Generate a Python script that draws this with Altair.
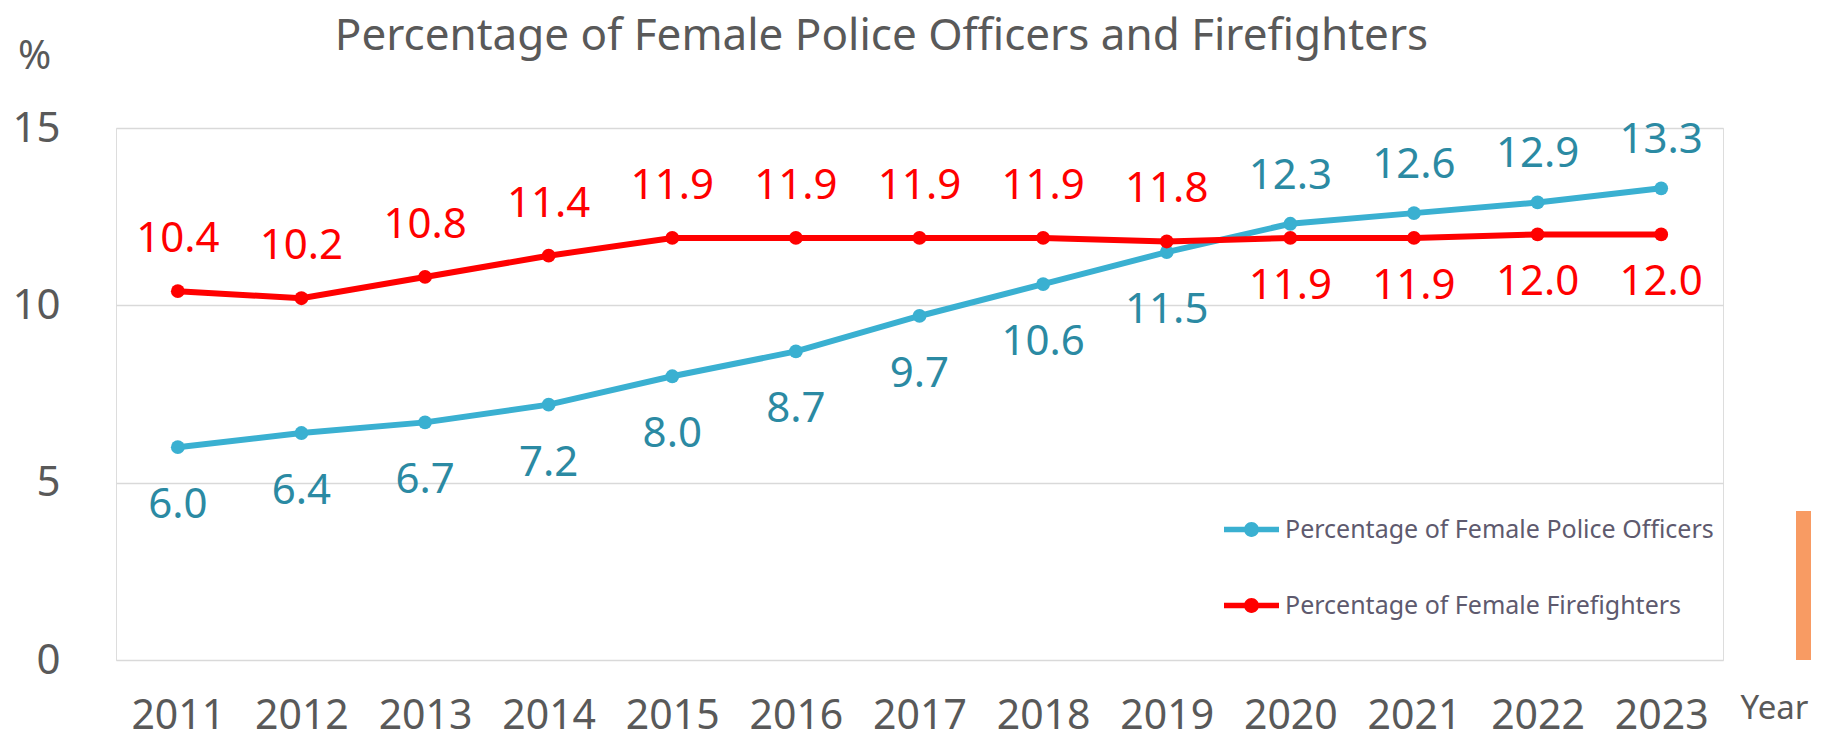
import altair as alt
import pandas as pd

years = [2011, 2012, 2013, 2014, 2015, 2016, 2017, 2018, 2019, 2020, 2021, 2022, 2023]
police = [6.0, 6.4, 6.7, 7.2, 8.0, 8.7, 9.7, 10.6, 11.5, 12.3, 12.6, 12.9, 13.3]
fire = [10.4, 10.2, 10.8, 11.4, 11.9, 11.9, 11.9, 11.9, 11.8, 11.9, 11.9, 12.0, 12.0]
series_names = ["Percentage of Female Police Officers", "Percentage of Female Firefighters"]
series_colors = ["#3ab0d1", "#ff0000"]
label_colors = ["#2b8aa3", "#ff0000"]
crossover_year = 2020
orange_bar = [0, 4.2]

rows = []
for y, p, f in zip(years, police, fire):
    rows.append({"year": y, "series": series_names[0], "value": p})
    rows.append({"year": y, "series": series_names[1], "value": f})
df = pd.DataFrame(rows)

FONT = "Noto Sans"
GREY = "#595959"

yscale = alt.Scale(domain=[0, 15], nice=False, zero=True)
cscale = alt.Scale(domain=series_names, range=series_colors)

x = alt.X("year:O", scale=alt.Scale(type="point", padding=0.5),
          axis=alt.Axis(labelAngle=0, labelFontSize=41, labelFont=FONT, labelColor=GREY,
                        labelPadding=36, ticks=False, domain=False, grid=False,
                        title="Year", titleX=1658, titleY=48, titleFontSize=33,
                        titleFont=FONT, titleColor=GREY, titleFontWeight="normal",
                        titleBaseline="middle", titleAlign="center"))
y = alt.Y("value:Q", scale=yscale,
          axis=alt.Axis(values=[0, 5, 10, 15], labelFontSize=42, labelFont=FONT,
                        labelColor=GREY, labelPadding=56, ticks=False, domain=False,
                        gridColor="#d9d9d9", gridWidth=1.5,
                        title="%", titleAngle=0, titleX=-82, titleY=-72, titleFontSize=40,
                        titleFont=FONT, titleColor=GREY, titleFontWeight="normal",
                        titleBaseline="middle", titleAlign="center"))

base = alt.Chart(df)

lines = base.mark_line(strokeWidth=6).encode(
    x=x, y=y, color=alt.Color("series:N", scale=cscale, legend=None))

sym = ("M-1,-0.1L1,-0.1L1,0.1L-1,0.1Z"
       "M0.27,0A0.27,0.27 0 1 1 -0.27,0A0.27,0.27 0 1 1 0.27,0Z")

points = base.mark_point(filled=True, size=190, opacity=1).encode(
    x=x, y=y,
    color=alt.Color("series:N", scale=cscale,
                    legend=alt.Legend(orient="none", legendX=1108, legendY=374, title=None,
                                      symbolType=sym, symbolSize=3025, symbolStrokeWidth=0,
                                      symbolOpacity=1, labelFontSize=25, labelFont=FONT,
                                      labelColor="#5e5a6e", rowPadding=35, labelOffset=6,
                                      labelLimit=500)))

def labels(series_idx, before, dy):
    flt = (alt.datum.year < crossover_year) if before else (alt.datum.year >= crossover_year)
    return base.mark_text(fontSize=42, font=FONT, dy=dy, color=label_colors[series_idx]).encode(
        x=x, y=y, text=alt.Text("value:Q", format=".1f")
    ).transform_filter(alt.datum.series == series_names[series_idx]).transform_filter(flt)

pol_below = labels(0, True, 58)
pol_above = labels(0, False, -48)
fire_above = labels(1, True, -52)
fire_below = labels(1, False, 48)

bar_df = pd.DataFrame({"y0": [orange_bar[0]], "y1": [orange_bar[1]]})
bar = alt.Chart(bar_df).mark_rect(color="#f89b63").encode(
    x=alt.value(1680), x2=alt.value(1695), y=alt.Y("y0:Q", scale=yscale), y2="y1:Q")

chart = alt.layer(lines, points, pol_below, pol_above, fire_above, fire_below, bar).resolve_legend(
    color="independent"
).properties(
    width=1607, height=532,
    title=alt.TitleParams("Percentage of Female Police Officers and Firefighters",
                          fontSize=44, font=FONT, color=GREY, fontWeight="normal",
                          anchor="middle", dx=-38, dy=27),
    autosize=alt.AutoSizeParams(type="none"),
    padding={"left": 108, "top": 120, "right": 92, "bottom": 80},
).configure_view(stroke="#d9d9d9", strokeWidth=2).configure(background="white")

chart.save("out.html", embed_options={"renderer": "svg", "actions": False})
